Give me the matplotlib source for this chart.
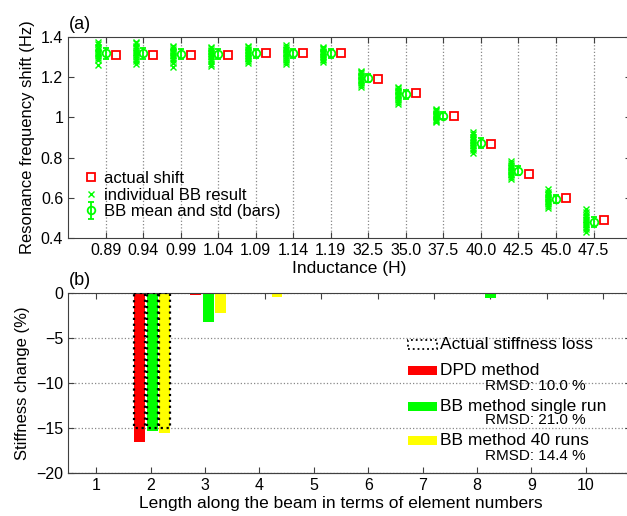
import numpy as np
import matplotlib
matplotlib.use('Agg')
import matplotlib.pyplot as plt
from matplotlib.patches import Rectangle

plt.rcParams['font.family'] = ['Liberation Sans', 'DejaVu Sans']

# ---- panel (a) data ----
inductance_labels = ['0.89', '0.94', '0.99', '1.04', '1.09', '1.14', '1.19',
                     '32.5', '35.0', '37.5', '40.0', '42.5', '45.0', '47.5']
actual_shift = [1.310, 1.310, 1.310, 1.310, 1.321, 1.321, 1.321,
                1.190, 1.120, 1.007, 0.868, 0.717, 0.597, 0.489]
bb_mean = [1.319, 1.319, 1.315, 1.314, 1.318, 1.318, 1.318,
           1.195, 1.115, 1.008, 0.874, 0.735, 0.594, 0.481]
bb_std = [0.027, 0.026, 0.026, 0.025, 0.023, 0.024, 0.021,
          0.020, 0.022, 0.017, 0.025, 0.022, 0.022, 0.025]
bb_runs = [
    [1.377, 1.365, 1.352, 1.343, 1.335, 1.327, 1.320, 1.313, 1.305, 1.296, 1.284, 1.261],
    [1.375, 1.368, 1.355, 1.345, 1.333, 1.325, 1.318, 1.310, 1.300, 1.290, 1.280, 1.265],
    [1.355, 1.348, 1.340, 1.332, 1.325, 1.318, 1.311, 1.303, 1.295, 1.285, 1.270, 1.252],
    [1.350, 1.343, 1.336, 1.328, 1.320, 1.313, 1.306, 1.298, 1.290, 1.280, 1.268, 1.255],
    [1.356, 1.348, 1.340, 1.333, 1.326, 1.319, 1.312, 1.305, 1.297, 1.290, 1.281, 1.270],
    [1.360, 1.350, 1.341, 1.334, 1.327, 1.320, 1.313, 1.305, 1.296, 1.288, 1.278, 1.265],
    [1.352, 1.346, 1.339, 1.332, 1.325, 1.319, 1.313, 1.306, 1.299, 1.292, 1.285, 1.276],
    [1.232, 1.226, 1.219, 1.212, 1.205, 1.199, 1.193, 1.186, 1.179, 1.171, 1.162, 1.150],
    [1.152, 1.145, 1.138, 1.131, 1.124, 1.118, 1.112, 1.105, 1.097, 1.089, 1.079, 1.065],
    [1.042, 1.036, 1.030, 1.024, 1.018, 1.012, 1.006, 1.000, 0.994, 0.988, 0.982, 0.975],
    [0.929, 0.915, 0.903, 0.894, 0.886, 0.879, 0.872, 0.865, 0.857, 0.849, 0.838, 0.824],
    [0.785, 0.772, 0.762, 0.754, 0.747, 0.740, 0.734, 0.727, 0.720, 0.712, 0.703, 0.692],
    [0.642, 0.630, 0.620, 0.612, 0.605, 0.598, 0.592, 0.585, 0.578, 0.570, 0.560, 0.548],
    [0.543, 0.528, 0.515, 0.504, 0.495, 0.487, 0.480, 0.472, 0.464, 0.455, 0.444, 0.431],
]

# ---- panel (b) data ----
elements = [1, 2, 3, 4, 5, 6, 7, 8, 9, 10]
actual_loss = [0, -15.0, 0, 0, 0, 0, 0, 0, 0, 0]
dpd_change = [-0.15, -16.5, -0.2, 0, 0, 0, 0, 0, 0, 0]
bb_single_change = [0, -15.3, -3.2, 0, 0, 0, 0, -0.5, 0, 0]
bb_40_change = [0, -15.5, -2.25, -0.4, 0, 0, 0, 0, 0, 0]
method_names = ['DPD method', 'BB method single run', 'BB method 40 runs']
rmsd_labels = ['RMSD: 10.0 %', 'RMSD: 21.0 %', 'RMSD: 14.4 %']

GREEN = '#00ff00'
RED = '#ff0000'
YELLOW = '#ffff00'
SPINE = '#404040'

fig = plt.figure(figsize=(6.27, 5.16), dpi=100)

# ---------------- (a) ----------------
ax1 = fig.add_axes([0.1085, 0.5388, 0.898, 0.3895])
pos = np.arange(1, len(inductance_labels) + 1)

for i, runs in enumerate(bb_runs):
    h_runs, = ax1.plot(np.full(len(runs), pos[i] - 0.2), runs, 'x', color=GREEN,
                       ms=4.5, mew=1.0, zorder=3)
h_mean = ax1.errorbar(pos, bb_mean, yerr=bb_std, fmt='o', color=GREEN, mfc='none',
                      mec=GREEN, ms=5.5, mew=1.3, elinewidth=1.3, capsize=2, zorder=4)
h_act, = ax1.plot(pos + 0.27, actual_shift, 's', mfc='none', mec=RED, ms=5.8,
                  mew=1.3, zorder=4)

ax1.set_xlim(0, 15)
ax1.set_ylim(0.4, 1.4)
ax1.set_xticks(pos)
ax1.set_xticklabels(inductance_labels)
ax1.set_yticks([0.4, 0.6, 0.8, 1.0, 1.2, 1.4])
ax1.set_yticklabels(['0.4', '0.6', '0.8', '1', '1.2', '1.4'])
ax1.xaxis.grid(True, linestyle=':', color='#888888', linewidth=0.9)
ax1.set_axisbelow(True)
ax1.tick_params(direction='in', top=True, right=True, labelsize=11.5, length=4,
                color=SPINE)
ax1.set_xlabel('Inductance (H)', fontsize=12.5, labelpad=2)
ax1.set_ylabel('Resonance frequency shift (Hz)', fontsize=12)
ax1.text(0.002, 1.02, '(a)', transform=ax1.transAxes, fontsize=13, va='bottom')
ax1.legend([h_act, h_runs, h_mean],
           ['actual shift', 'individual BB result', 'BB mean and std (bars)'],
           loc='lower left', bbox_to_anchor=(0.014, 0.06), frameon=False,
           fontsize=12, handlelength=1.0, handletextpad=0.3, labelspacing=0.1,
           borderaxespad=0, numpoints=1)
for s in ax1.spines.values():
    s.set_color(SPINE)

# ---------------- (b) ----------------
ax2 = fig.add_axes([0.1085, 0.0833, 0.898, 0.3488])
x = np.array(elements)
width = 0.19
offsets = [-0.23, 0.0, 0.21]
colors = [RED, GREEN, YELLOW]
series = [dpd_change, bb_single_change, bb_40_change]
for off, col, vals in zip(offsets, colors, series):
    ax2.bar(x + off, vals, width=width, color=col, linewidth=0, zorder=2)

actual = np.array(actual_loss)
mask = actual != 0
for off in offsets:
    ax2.bar(x[mask] + off, actual[mask], width=width, fill=False, edgecolor='black',
            linestyle=':', linewidth=1.6, zorder=3)

ax2.set_xlim(0.5, 10.5)
ax2.set_ylim(-20, 0)
ax2.set_yticks([-20, -15, -10, -5, 0])
ax2.yaxis.grid(True, linestyle=':', color='#888888', linewidth=0.9)
ax2.set_axisbelow(True)
ax2.set_xticks(elements)
ax2.tick_params(axis='x', direction='in', bottom=False, top=True, labelbottom=False,
                length=4, color=SPINE)
ax2.tick_params(axis='y', direction='in', right=True, labelsize=11.5, length=4,
                color=SPINE)
ax2.set_ylabel('Stiffness change (%)', fontsize=12)
ax2.text(0.002, 1.02, '(b)', transform=ax2.transAxes, fontsize=13, va='bottom')

k = 56.3 / 54.4
sec = ax2.secondary_xaxis('bottom', functions=(lambda b: 1 + (b - 1) * k,
                                               lambda l: 1 + (l - 1) / k))
sec.set_xticks(elements)
sec.tick_params(direction='in', labelsize=11.5, length=4, color=SPINE)
sec.set_xlabel('Length along the beam in terms of element numbers', fontsize=12.5,
               labelpad=2)
sec.xaxis.label.set_x(0.485)
sec.spines['bottom'].set_color(SPINE)
for s in ax2.spines.values():
    s.set_color(SPINE)

# legend for (b), drawn in axes fraction
def fx(px):
    return (px - 68) / 563.0

def fy(py):
    return (473 - py) / 180.0

ph = 9 / 180.0
pw = fx(437) - fx(408)
ax2.add_patch(Rectangle((fx(408), fy(344) - ph / 2), pw, ph, transform=ax2.transAxes,
                        fill=False, edgecolor='black', linestyle=':', linewidth=1.3,
                        clip_on=False))
ax2.text(fx(440), fy(344), 'Actual stiffness loss', transform=ax2.transAxes,
         fontsize=12.5, va='center')
rows = [(370, 386), (406, 420), (440, 456)]
for (yl, yr), col, name, rm in zip(rows, colors, method_names, rmsd_labels):
    ax2.add_patch(Rectangle((fx(408), fy(yl) - ph / 2), pw, ph, transform=ax2.transAxes,
                            facecolor=col, edgecolor='none', clip_on=False))
    ax2.text(fx(440), fy(yl), name, transform=ax2.transAxes, fontsize=12.5, va='center')
    ax2.text(fx(485), fy(yr), rm, transform=ax2.transAxes, fontsize=11, va='center')

fig.savefig('out.png', dpi=100)
